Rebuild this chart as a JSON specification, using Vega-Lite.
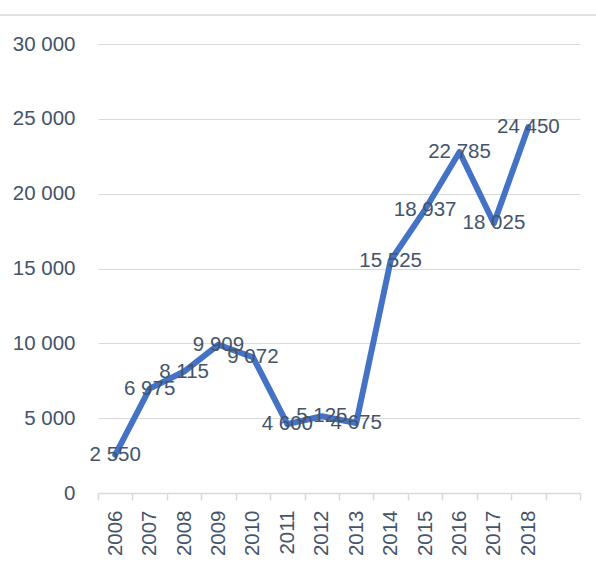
{
  "$schema": "https://vega.github.io/schema/vega-lite/v6.json",
  "autosize": "none",
  "padding": {"left": 98, "top": 44, "right": 16, "bottom": 74},
  "width": 482,
  "height": 449,
  "background": "white",
  "config": {
    "view": {"stroke": null},
    "font": "Liberation Sans",
    "locale": {"number": {"decimal": ",", "thousands": " ", "grouping": [3], "currency": ["", ""]}}
  },
  "data": {
    "values": [
      {"year": "2006", "value": 2550},
      {"year": "2007", "value": 6975},
      {"year": "2008", "value": 8115},
      {"year": "2009", "value": 9909},
      {"year": "2010", "value": 9072},
      {"year": "2011", "value": 4600},
      {"year": "2012", "value": 5125},
      {"year": "2013", "value": 4675},
      {"year": "2014", "value": 15525},
      {"year": "2015", "value": 18937},
      {"year": "2016", "value": 22785},
      {"year": "2017", "value": 18025},
      {"year": "2018", "value": 24450}
    ]
  },
  "layer": [
    {
      "encoding": {
        "x": {
          "field": "year",
          "type": "ordinal",
          "scale": {
            "domain": ["2006","2007","2008","2009","2010","2011","2012","2013","2014","2015","2016","2017","2018","2019"],
            "paddingInner": 0,
            "paddingOuter": 0
          },
          "axis": {
            "title": null,
            "labelAngle": -90,
            "labelExpr": "datum.value == '2019' ? '' : datum.value",
            "tickBand": "extent",
            "tickSize": 7,
            "tickWidth": 1.5,
            "tickColor": "#D9D9D9",
            "domainColor": "#D9D9D9",
            "domainWidth": 1.5,
            "labelPadding": 10,
            "labelFontSize": 20.5,
            "labelColor": "#44546A",
            "labelFont": "Liberation Sans",
            "grid": false
          }
        },
        "y": {
          "field": "value",
          "type": "quantitative",
          "scale": {"domain": [0, 30000], "nice": false},
          "axis": {
            "title": null,
            "values": [0, 5000, 10000, 15000, 20000, 25000, 30000],
            "format": ",.0f",
            "domain": false,
            "ticks": false,
            "labelPadding": 23,
            "labelFontSize": 20.5,
            "labelColor": "#44546A",
            "labelFont": "Liberation Sans",
            "gridColor": "#D9D9D9",
            "gridWidth": 1.2
          }
        }
      },
      "layer": [
        {
          "mark": {"type": "line", "color": "#4472C4", "strokeWidth": 6, "strokeCap": "round", "strokeJoin": "round"}
        },
        {
          "mark": {"type": "text", "fontSize": 20.5, "color": "#44546A", "font": "Liberation Sans", "align": "center", "baseline": "middle"},
          "encoding": {
            "text": {"field": "value", "type": "quantitative", "format": ",.0f"}
          }
        }
      ]
    },
    {
      "data": {"values": [{"border": "top"}]},
      "mark": {"type": "rule", "color": "#D9D9D9", "strokeWidth": 1.5, "clip": false},
      "encoding": {
        "x": {"datum": -0.2033, "type": "quantitative", "scale": {"domain": [0, 1], "clamp": false}, "axis": null},
        "x2": {"datum": 1.0332},
        "y": {"datum": 31938, "type": "quantitative"}
      }
    }
  ],
  "resolve": {"scale": {"x": "independent"}}
}
